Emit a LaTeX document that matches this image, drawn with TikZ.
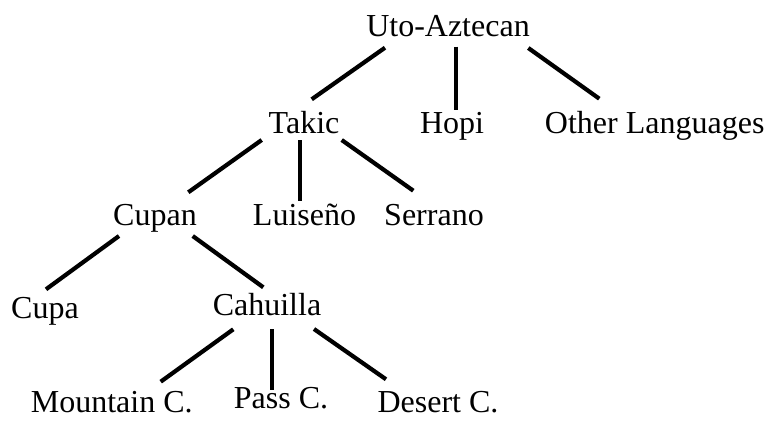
\documentclass[tikz,border=0pt]{standalone}
\usepackage{fontspec}
\setmainfont{Liberation Serif}
\begin{document}
\begin{tikzpicture}[x=1pt,y=-1pt,
  lang/.style={anchor=base,inner sep=0pt,font=\fontsize{32}{36}\selectfont},
  branch/.style={line width=4.2pt}]
\useasboundingbox (0,0) rectangle (766,421);
% language names, placed by baseline centre
\node[lang] (uto)      at (448,36)    {Uto-Aztecan};
\node[lang] (takic)    at (304,133.5) {Takic};
\node[lang] (hopi)     at (452,133.5) {Hopi};
\node[lang] (other)    at (654.7,133.5) {Other Languages};
\node[lang] (cupan)    at (155,225)   {Cupan};
\node[lang] (luiseno)  at (304.5,225) {Luiseño};
\node[lang] (serrano)  at (434,225)   {Serrano};
\node[lang] (cupa)     at (45,318)    {Cupa};
\node[lang] (cahuilla) at (267,315.5) {Cahuilla};
\node[lang] (mountain) at (111.7,412) {Mountain C.};
\node[lang] (pass)     at (281,408.5) {Pass C.};
\node[lang] (desert)   at (438,412)   {Desert C.};
% branches of the family tree
\draw[branch] ([shift={(-63,11.7)}]uto.base) -- ([shift={(7.7,-34.2)}]takic.base);
\draw[branch] ([shift={(7.7,10.7)}]uto.base) -- ([shift={(3.7,-23.5)}]hopi.base);
\draw[branch] ([shift={(80.3,12)}]uto.base) -- ([shift={(-55.4,-34.8)}]other.base);
\draw[branch] ([shift={(-42.3,6.5)}]takic.base) -- ([shift={(33.3,-32.7)}]cupan.base);
\draw[branch] ([shift={(-4,6.5)}]takic.base) -- ([shift={(-4.5,-24.3)}]luiseno.base);
\draw[branch] ([shift={(37.7,6.5)}]takic.base) -- ([shift={(-20.7,-34.3)}]serrano.base);
\draw[branch] ([shift={(-36,11)}]cupan.base) -- ([shift={(1,-28.7)}]cupa.base);
\draw[branch] ([shift={(37.7,11)}]cupan.base) -- ([shift={(-3.7,-28.2)}]cahuilla.base);
\draw[branch] ([shift={(-33.7,13.8)}]cahuilla.base) -- ([shift={(49,-30.3)}]mountain.base);
\draw[branch] ([shift={(4.7,13.5)}]cahuilla.base) -- ([shift={(-9.3,-18.5)}]pass.base);
\draw[branch] ([shift={(47,13.5)}]cahuilla.base) -- ([shift={(-52,-32.7)}]desert.base);
\end{tikzpicture}
\end{document}
